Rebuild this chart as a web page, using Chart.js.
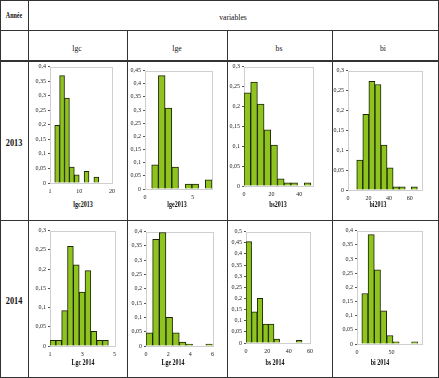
<!DOCTYPE html>
<html><head><meta charset="utf-8">
<script src="https://cdn.jsdelivr.net/npm/chart.js@4.4.1/dist/chart.umd.min.js"></script>
<style>
html,body{margin:0;padding:0;background:#fff;}
#wrap{position:relative;width:439px;height:378px;overflow:hidden;font-family:'Liberation Serif','Times New Roman',serif;color:#111;}
.h{position:absolute;height:1px;background:#333;}
.v{position:absolute;width:1px;background:#333;}
.t{position:absolute;white-space:nowrap;line-height:1;}
canvas{position:absolute;}
</style></head><body><div id="wrap"></div>
<script>
// ---- data ----
const columns = ['lgc','lge','bs','bi'];
const years = ['2013','2014'];

const lgc2013Bins = [3.2,4.7,6.2,7.7,9.2,10.7,12.2,13.7,15.2];
const lgc2013Freq = [0.198,0.369,0.292,0.055,0.028,0,0.04,0,0.02];
const lgc2013XTicks = [1,10,20];

const lge2013Bins = [1.05,1.75,2.45,3.15,3.85,4.55,5.25,5.95,6.65];
const lge2013Freq = [0.092,0.431,0.308,0.083,0,0.019,0.019,0,0.035];
const lge2013XTicks = [0,5];

const bs2013Bins = [2.425,7.275,12.125,16.975,21.825,26.675,31.525,36.375,41.225,46.075];
const bs2013Freq = [0.234,0.261,0.206,0.141,0.103,0.018,0.008,0.008,0,0.008];
const bs2013XTicks = [0,20,40];

const bi2013Bins = [11.45,17.35,23.25,29.15,35.05,40.95,46.85,52.75,58.65,64.55];
const bi2013Freq = [0.075,0.19,0.273,0.265,0.113,0.056,0.008,0.008,0,0.008];
const bi2013XTicks = [0,20,40,60];

const lgc2014Bins = [1.181,1.543,1.905,2.267,2.629,2.991,3.353,3.715,4.077,4.439];
const lgc2014Freq = [0.015,0.015,0.092,0.259,0.211,0.14,0.196,0.038,0.015,0.015];
const lgc2014XTicks = [1,3,5];

const lge2014Bins = [0.3,0.9,1.5,2.1,2.7,3.3,3.9,4.5,5.1,5.7];
const lge2014Freq = [0.046,0.373,0.397,0.1,0.046,0.014,0.007,0,0,0.007];
const lge2014XTicks = [0,2,4,6];

const bs2014Bins = [2.625,7.875,13.125,18.375,23.625,28.875,34.125,39.375,44.625,49.875];
const bs2014Freq = [0.455,0.14,0.2,0.085,0.085,0.018,0,0,0,0.012];
const bs2014XTicks = [0,20,40,60];

const bi2014Bins = [11.5,20.5,29.5,38.5,47.5,56.5,65.5,74.5,83.5];
const bi2014Freq = [0.178,0.386,0.262,0.117,0.03,0.008,0,0,0.008];
const bi2014XTicks = [0,50];

// ---- layout ----
const wrap = document.getElementById('wrap');
function line(cls, x, y, len, thick){
  const d = document.createElement('div'); d.className = cls;
  d.style.left = x+'px'; d.style.top = y+'px';
  if(cls==='h'){ d.style.width = len+'px'; if(thick) d.style.height = thick+'px'; }
  else { d.style.height = len+'px'; if(thick) d.style.width = thick+'px'; }
  wrap.appendChild(d);
}
function text(str, cx, cy, size, opts){
  opts = opts||{};
  const d = document.createElement('div'); d.className='t'; d.textContent = str;
  d.style.fontSize = size+'px';
  if(opts.bold) d.style.fontWeight = 'bold';
  d.style.left = cx+'px'; d.style.top = cy+'px';
  d.style.transform = 'translate(-50%,-50%) scaleX(' + (opts.sx||0.8) + ')';
  wrap.appendChild(d);
}
// table grid
[0,30,220,377].forEach(y=>line('h',0,y,439));
line('h',0,60,439,2);
line('v',0,0,378); line('v',28,0,378); line('v',438,0,378);
[127,227,332].forEach(x=>line('v',x,30,348));

text('Année',14,16,8,{bold:true,sx:0.75});
text('variables',233,17,9,{sx:0.85});
const headX = [77,177,279,383];
columns.forEach((c,i)=>text(c,headX[i],48,9,{sx:0.85}));
text(years[0],14,142,11,{bold:true,sx:0.75});
text(years[1],14,300,11,{bold:true,sx:0.75});

const tickFont = {family:"'Liberation Serif', serif", size:6};
const framePlugin = {
  id:'frame',
  beforeDatasetsDraw(chart){
    const a = chart.chartArea, ctx = chart.ctx;
    ctx.save(); ctx.strokeStyle = '#cfcfcf'; ctx.lineWidth = 1;
    ctx.strokeRect(Math.round(a.left)+0.5, Math.round(a.top)+0.5, Math.round(a.right-a.left), Math.round(a.bottom-a.top));
    ctx.restore();
  }
};

function makeChart(box, bins, freq, xMin, xMax, xTicks, yMax, title, titlePos){
  const padL = 30, padT = 5, padR = 4, xH = 16;
  const c = document.createElement('canvas');
  const w = box.r - box.l + padL + padR, h = box.b - box.t + padT + xH;
  c.width = w; c.height = h; c.style.width = w+'px'; c.style.height = h+'px';
  c.style.left = (box.l - padL)+'px'; c.style.top = (box.t - padT)+'px';
  wrap.appendChild(c);
  new Chart(c, {
    type:'bar',
    data:{datasets:[{
      data: bins.map((x,i)=>({x:x, y:freq[i]})),
      backgroundColor:'#8fc31f', borderColor:'#1c2408', borderWidth:1,
      barPercentage:1, categoryPercentage:1
    }]},
    options:{
      responsive:false, animation:false, events:[],
      layout:{padding:{top:padT,right:padR,left:0,bottom:0}},
      plugins:{legend:{display:false}, tooltip:{enabled:false}},
      scales:{
        x:{type:'linear', min:xMin, max:xMax, offset:false,
           afterBuildTicks:s=>{ s.ticks = xTicks.map(v=>({value:v})); },
           afterFit:s=>{ s.height = xH; },
           grid:{display:false, drawTicks:false, offset:false},
           border:{display:true, color:'#000', width:1},
           ticks:{font:tickFont, color:'#222', padding:5, maxRotation:0, autoSkip:false, callback:v=>String(v)}},
        y:{min:0, max:yMax,
           afterFit:s=>{ s.width = padL; },
           grid:{display:true, drawOnChartArea:false, drawTicks:true, tickLength:2, color:'#555'},
           border:{display:false},
           ticks:{stepSize:0.05, font:tickFont, color:'#222', padding:2,
                  callback:v=>String(Math.round(v*100)/100).replace('.',',')}}
      }
    },
    plugins:[framePlugin]
  });
  text(title, titlePos[0], titlePos[1], 8, {bold:true, sx:0.75});
}

makeChart({l:50,r:116,t:66,b:183}, lgc2013Bins, lgc2013Freq, 1, 20, lgc2013XTicks, 0.4, 'lgc2013', [83,205]);
makeChart({l:145,r:212,t:70,b:189}, lge2013Bins, lge2013Freq, 0, 7, lge2013XTicks, 0.45, 'lge2013', [177,205]);
makeChart({l:244,r:313,t:66,b:186}, bs2013Bins, bs2013Freq, 0, 50, bs2013XTicks, 0.3, 'bs2013', [278,205]);
makeChart({l:348,r:422,t:70,b:190}, bi2013Bins, bi2013Freq, 0, 72, bi2013XTicks, 0.3, 'bi2013', [378,205]);

makeChart({l:50,r:117,t:230,b:346}, lgc2014Bins, lgc2014Freq, 1, 5, lgc2014XTicks, 0.3, 'Lgc 2014', [83,363]);
makeChart({l:146,r:215,t:231,b:346}, lge2014Bins, lge2014Freq, 0, 6, lge2014XTicks, 0.4, 'Lge 2014', [173,363]);
makeChart({l:246,r:314,t:231,b:343}, bs2014Bins, bs2014Freq, 0, 60, bs2014XTicks, 0.5, 'bs 2014', [275,363]);
makeChart({l:357,r:422,t:230,b:344}, bi2014Bins, bi2014Freq, 0, 94, bi2014XTicks, 0.4, 'bi 2014', [380,363]);
</script>
</body></html>
